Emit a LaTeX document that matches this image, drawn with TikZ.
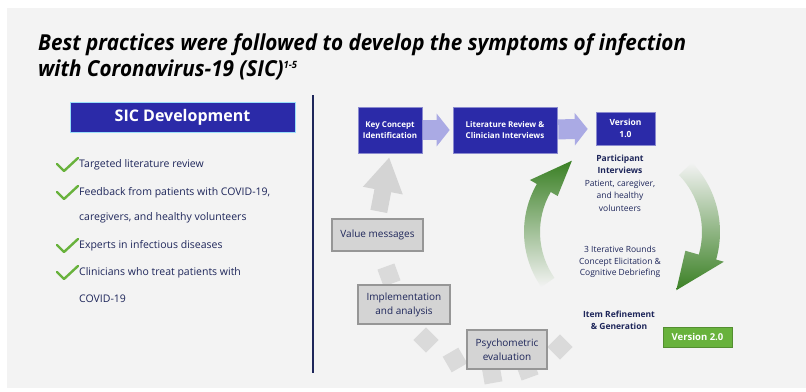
\documentclass[tikz,border=0pt]{standalone}
\usepackage{fontspec}
\setmainfont{Open Sans}
\newfontfamily\headfont{Open Sans}[FakeStretch=0.94]
\usetikzlibrary{arrows.meta,positioning,shadows}
\definecolor{sicblue}{RGB}{43,42,168}
\definecolor{sicnavy}{RGB}{30,38,90}
\definecolor{pale}{RGB}{170,170,228}
\definecolor{leaf}{RGB}{104,178,60}
\definecolor{darkleaf}{RGB}{58,128,36}
\definecolor{panel}{RGB}{243,243,243}
\definecolor{stone}{RGB}{212,212,212}
\definecolor{stoneedge}{RGB}{150,150,150}
\tikzset{
  bluebox/.style={fill=sicblue, draw=sicblue!55, line width=0.6pt, text=white, align=center,
    font=\fontsize{8}{11.5}\selectfont\bfseries, inner sep=1pt,
    drop shadow={opacity=0.2, shadow xshift=1pt, shadow yshift=-1pt}},
  greybox/.style={fill=stone, draw=stoneedge, line width=1.4pt, text=sicnavy, align=center,
    font=\fontsize{10}{14}\selectfont, inner sep=1pt},
  gsq/.style={fill=stone!85, minimum size=18pt, inner sep=0pt},
  flow/.style={line width=20pt, draw=pale, -{Triangle[width=32pt,length=13pt]}},
  okmark/.style={draw=leaf, line width=2.4pt, line cap=round, line join=round},
  item/.style={text=sicnavy, anchor=west, inner sep=0pt, font=\fontsize{10.5}{13}\selectfont},
  note/.style={text=sicnavy, align=center, font=\fontsize{8.5}{12.5}\selectfont},
  headline/.style={anchor=base west, inner sep=0pt, font=\headfont\fontsize{22}{26}\selectfont\bfseries\itshape},
}
\newcommand\refmark[1]{\raisebox{8pt}{\fontsize{10}{10}\selectfont #1}}
\begin{document}
\begin{tikzpicture}[x=1pt,y=-1pt]
\useasboundingbox (0,0) rectangle (806,391);
\fill[panel] (7,8) rectangle (806,388);

\node[headline] (title1) at (38,50) {Best practices were followed to develop the symptoms of infection};
\node[headline] (title2) at (38,76) {with Coronavirus-19 (SIC)\refmark{1-5}};

% left panel
\node[fill=sicblue, draw=cyan!40, line width=0.8pt, minimum width=225pt, minimum height=30pt, text=white,
  font=\fontsize{16}{18}\selectfont\bfseries] (sic) at (182.5,117) {SIC Development};
\node[item] (t1) at (79,165) {Targeted literature review};
\node[item] (t2) at (79,193) {Feedback from patients with COVID-19,};
\node[item] (t3) at (79,218) {caregivers, and healthy volunteers};
\node[item] (t4) at (79,246) {Experts in infectious diseases};
\node[item] (t5) at (79,273) {Clinicians who treat patients with};
\node[item] (t6) at (79,299) {COVID-19};
\foreach \t in {t1,t2,t4,t5}
  \draw[okmark] (\t.west) ++(-22,-1) -- ++(7,7) -- ++(14,-13);
\draw[sicnavy, line width=2pt] (313,95) -- (313,373);

% upper row
\node[bluebox, minimum width=64pt, minimum height=46pt] (key) at (390,130) {Key Concept\\Identification};
\node[bluebox, minimum width=104pt, minimum height=46pt] (lit) at (505,130) {Literature Review \&\\Clinician Interviews};
\node[bluebox, minimum width=59pt, minimum height=33pt, font=\fontsize{8.5}{12}\selectfont\bfseries] (v1) at (625.5,128.5) {Version\\1.0};
\draw[flow, shorten <=1pt, shorten >=3pt] (key) -- (lit);
\draw[flow, shorten <=1pt, shorten >=8pt] (lit) -- (v1);

\node[note] (part) at (620,183) {\textbf{Participant}\\\textbf{Interviews}\\Patient, caregiver,\\and healthy\\volunteers};
\node[note, font=\fontsize{8.5}{11.5}\selectfont] (rounds) at (620,262) {3 Iterative Rounds\\Concept Elicitation \&\\Cognitive Debriefing};
\node[note, font=\fontsize{8.5}{11.5}\selectfont\bfseries] (refine) at (619,320.5) {Item Refinement\\\& Generation};
\node[fill=leaf, draw=leaf!80!black, line width=0.5pt, minimum width=69pt, minimum height=20pt, text=white,
  font=\fontsize{9.5}{11}\selectfont\bfseries] (v2) at (697.5,337) {Version 2.0};

% green cycle
\begin{scope}[shift={(620,232)}, yscale=-1]
\shade[top color=darkleaf, bottom color=panel] (215:80) arc[start angle=215, end angle=150, radius=80]
  -- (150:72) -- (124:86) -- (150:104) -- (150:96) arc[start angle=150, end angle=215, radius=96] -- cycle;
\shade[top color=panel, bottom color=darkleaf] (44:82) arc[start angle=44, end angle=-16, radius=82]
  -- (-16:68) -- (-46:81) -- (-16:108) -- (-16:100) arc[start angle=-16, end angle=44, radius=100] -- cycle;
\end{scope}

% grey loop
\foreach \x/\y/\a [count=\i] in {389/275/20, 426/340/45, 455/360/30, 492/374/10, 527/369/20, 560/347/45}
  \node[gsq, rotate=\a] (sq\i) at (\x,\y) {};
\node[greybox, minimum width=91pt, minimum height=32pt] (value) at (377.5,235) {Value messages};
\node[greybox, minimum width=92pt, minimum height=39pt] (impl) at (404,304.5) {Implementation\\and analysis};
\node[greybox, minimum width=80pt, minimum height=39pt] (psych) at (507,349.5) {Psychometric\\evaluation};
\draw[line width=17pt, draw=stone, -{Triangle[width=38pt,length=34pt]}, shorten <=7pt, shorten >=4pt] (value.north) -- (key.south);
\end{tikzpicture}
\end{document}
